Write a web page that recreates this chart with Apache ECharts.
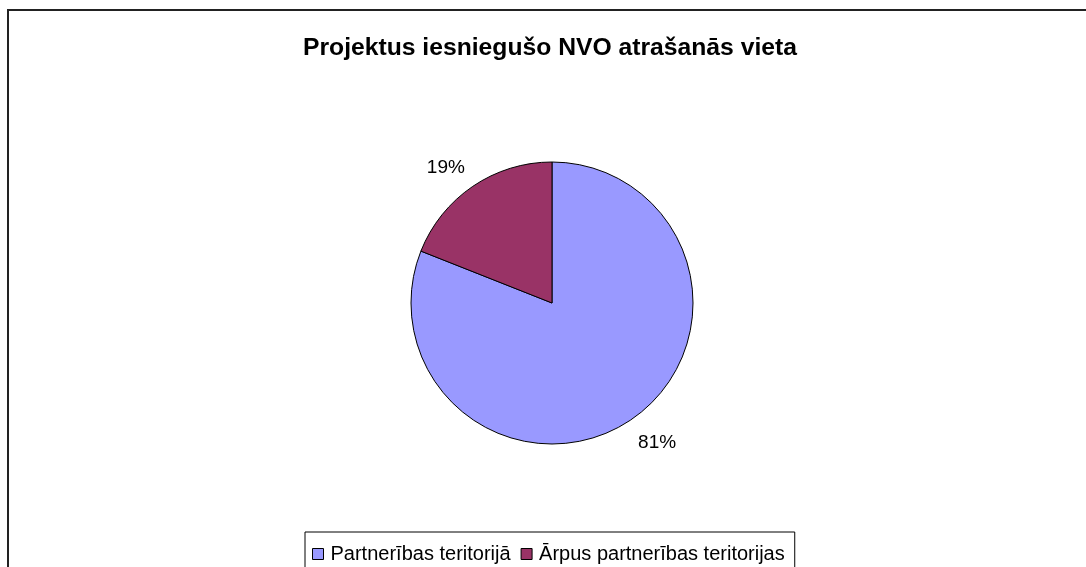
<!DOCTYPE html>
<html>
    <head>
        <meta charset="utf-8">
        <title></title>
        <style>
            body{ margin: 0; }
            #div{
                width: 1086px;
                height: 567px;
            }
        </style>
    </head>
    <body>
        <div id="div"></div>
        <script src="https://cdn.jsdelivr.net/npm/echarts@6/dist/echarts.min.js"></script>
        <script>
            var names = ['Partnerības teritorijā', 'Ārpus partnerības teritorijas'];
            var values = [81, 19];
            var colors = ['#9999FF', '#993366'];
            // small nudges of the outside labels
            var labelShift = [[-10, 12], [9, -7]];

            var data = [];
            for(var i = 0; i < names.length; i++){
                data.push({name: names[i], value: values[i], itemStyle: {color: colors[i]}});
            }

            var myChart = echarts.init(document.getElementById('div'));
            var option = {
                backgroundColor: '#fff',
                textStyle: {fontFamily: 'Liberation Sans, Arial, sans-serif'},
                title: {
                    text: 'Projektus iesniegušo NVO atrašanās vieta',
                    left: 298,
                    top: 31,
                    textStyle: {fontSize: 24.7, fontWeight: 'bold', color: '#000'}
                },
                graphic: [{
                    type: 'rect',
                    shape: {x: 8, y: 10, width: 1200, height: 1000},
                    style: {fill: 'none', stroke: '#222', lineWidth: 2},
                    silent: true
                }],
                legend: {
                    left: 305,
                    top: 532,
                    icon: 'rect',
                    itemWidth: 11,
                    itemHeight: 11,
                    itemGap: 10,
                    padding: [12, 10, 30, 7],
                    borderColor: '#000',
                    borderWidth: 1,
                    itemStyle: {borderColor: '#000', borderWidth: 1},
                    textStyle: {fontSize: 20, color: '#000', padding: [0, 0, 0, 2]},
                    data: names
                },
                series: [{
                    type: 'pie',
                    center: [552, 303],
                    radius: 141,
                    startAngle: 90,
                    clockwise: true,
                    animation: false,
                    itemStyle: {borderColor: '#000', borderWidth: 1},
                    label: {
                        show: true,
                        position: 'outside',
                        formatter: '{d}%',
                        fontSize: 19,
                        color: '#000'
                    },
                    labelLine: {show: false, length: 14, length2: 4},
                    labelLayout: function(p){
                        return {dx: labelShift[p.dataIndex][0], dy: labelShift[p.dataIndex][1]};
                    },
                    data: data
                }]
            };
            option && myChart.setOption(option);
        </script>
    </body>
</html>
